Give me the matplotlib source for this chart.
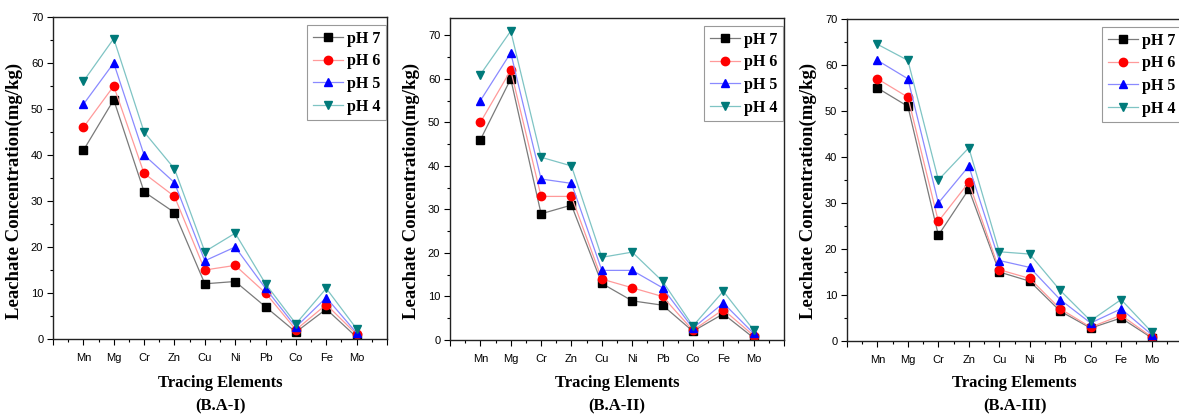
import numpy as np
import matplotlib
matplotlib.use("Agg")
import matplotlib.pyplot as plt
from matplotlib.ticker import MultipleLocator

elements = ['Mn', 'Mg', 'Cr', 'Zn', 'Cu', 'Ni', 'Pb', 'Co', 'Fe', 'Mo']
ph_labels = ['pH 7', 'pH 6', 'pH 5', 'pH 4']
panel_titles = ['(B.A-I)', '(B.A-II)', '(B.A-III)']

# B.A-I
ba1_ph7 = [41, 52, 32, 27.5, 12, 12.5, 7, 1.5, 6.5, 0.4]
ba1_ph6 = [46, 55, 36, 31, 15, 16, 10, 2, 7.5, 1]
ba1_ph5 = [51, 60, 40, 34, 17, 20, 11, 2.6, 9, 1.3]
ba1_ph4 = [56, 65.3, 45, 37, 19, 23, 12, 3.3, 11, 2.2]

# B.A-II
ba2_ph7 = [46, 60, 29, 31, 13, 9, 8, 2, 6, 0.5]
ba2_ph6 = [50, 62, 33, 33, 14, 12, 10, 2.2, 7, 1]
ba2_ph5 = [55, 66, 37, 36, 16, 16, 12, 2.7, 8.5, 1.5]
ba2_ph4 = [61, 71, 42, 40, 19, 20.2, 13.5, 3.2, 11.2, 2.3]

# B.A-III
ba3_ph7 = [55, 51, 23, 33, 15, 13, 6.5, 2.8, 5, 0.7]
ba3_ph6 = [57, 53, 26, 34.5, 15.5, 13.6, 7, 3, 5.6, 0.9]
ba3_ph5 = [61, 57, 30, 38, 17.5, 16, 9, 3.9, 7, 1.4]
ba3_ph4 = [64.5, 61, 35, 42, 19.4, 18.9, 11, 4.4, 9, 2]

panels = [
    [ba1_ph7, ba1_ph6, ba1_ph5, ba1_ph4],
    [ba2_ph7, ba2_ph6, ba2_ph5, ba2_ph4],
    [ba3_ph7, ba3_ph6, ba3_ph5, ba3_ph4],
]
ytops = [70, 74, 70]

marker_colors = ['black', 'red', 'blue', '#007a7a']
line_colors = ['#7a7a7a', '#ff9a9a', '#8a8aff', '#7fc4c4']
markers = ['s', 'o', '^', 'v']

W, H = 1179, 416
fig = plt.figure(figsize=(W / 100, H / 100), dpi=100)
fig.patch.set_facecolor('white')

# pixel boxes: left, right, top, bottom
boxes = [(53, 387, 17, 339), (450, 784, 18, 340), (847, 1182, 19, 341)]

serif = 'Liberation Serif'
sans = 'Liberation Sans'

x = np.arange(1, len(elements) + 1)
for k, (series, box) in enumerate(zip(panels, boxes)):
    l, r, t, b = box
    ax = fig.add_axes([l / W, 1 - b / H, (r - l) / W, (b - t) / H])
    for vals, mc, lc, mk, lab in zip(series, marker_colors, line_colors, markers, ph_labels):
        ax.plot(x, vals, color=lc, lw=0.9, marker=mk, markersize=6,
                markerfacecolor=mc, markeredgecolor=mc, label=lab)
    ax.set_xlim(0, 11)
    ax.set_ylim(0, ytops[k])
    ax.set_xticks(np.arange(0, 12))
    ax.set_xticklabels([''] + elements + [''], fontfamily=sans, fontsize=8)
    ax.xaxis.set_minor_locator(MultipleLocator(0.5))
    ax.yaxis.set_major_locator(MultipleLocator(10))
    ax.yaxis.set_minor_locator(MultipleLocator(5))
    for lb in ax.get_yticklabels():
        lb.set_fontfamily(sans)
        lb.set_fontsize(8)
    ax.tick_params(which='major', direction='out', length=4, width=0.8, pad=3)
    ax.tick_params(which='minor', direction='out', length=2.5, width=0.8)
    ax.tick_params(axis='x', which='major', pad=6)
    for sp in ax.spines.values():
        sp.set_linewidth(1.0)
        sp.set_color('#222222')
    ax.set_ylabel('Leachate Concentration(mg/kg)', fontfamily=serif,
                  fontweight='bold', fontsize=13.5)
    ax.yaxis.set_label_coords(-30 / (r - l), (b - 191) / (b - t))
    ax.set_xlabel('Tracing Elements\n' + panel_titles[k], fontfamily=serif,
                  fontweight='bold', fontsize=12, labelpad=8.5 - 0.7 * k, linespacing=1.65)
    leg = ax.legend(loc='upper right', bbox_to_anchor=(0.997, 0.975),
                    prop={'family': serif, 'weight': 'bold', 'size': 11.5},
                    fancybox=False, framealpha=1, edgecolor='#999999',
                    handlelength=1.9, handletextpad=0.25, labelspacing=0.42,
                    borderpad=0.35, borderaxespad=0)
    leg.get_frame().set_linewidth(0.8)

fig.savefig('out.png', dpi=100, facecolor='white')
